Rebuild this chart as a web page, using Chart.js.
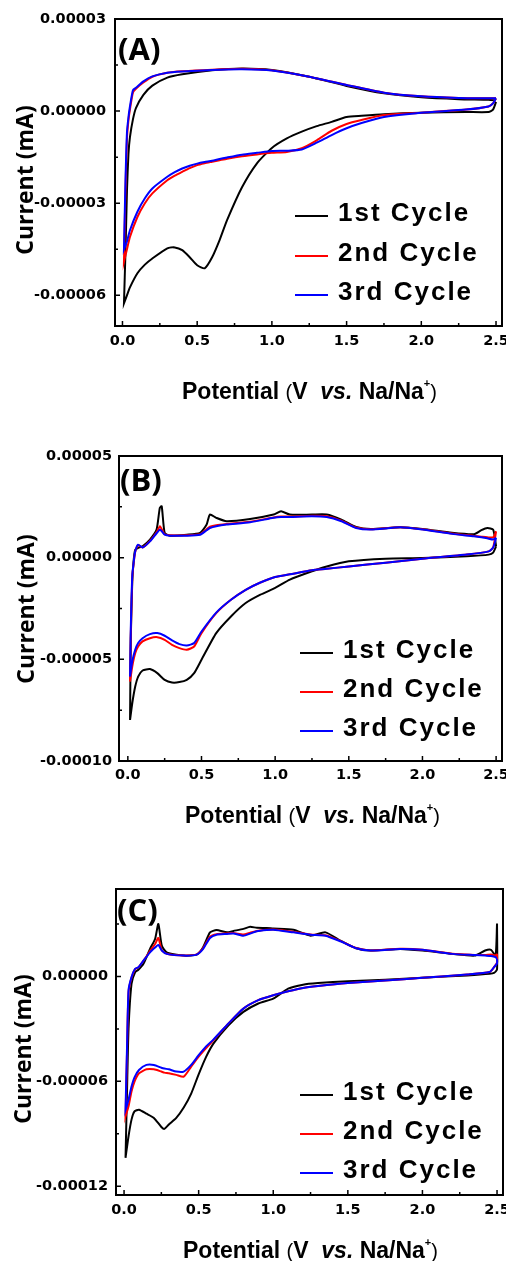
<!DOCTYPE html>
<html>
<head>
<meta charset="utf-8">
<title>CV curves – first three cycles</title>
<script src="https://cdn.jsdelivr.net/npm/chart.js@4.4.1/dist/chart.umd.min.js"></script>
<style>
  html, body { margin: 0; padding: 0; background: #fff; overflow: hidden; }
  #wrap { position: relative; width: 506px; height: 1261px; }
  #wrap canvas { position: absolute; left: 0; }
</style>
</head>
<body>
<div id="wrap">
  <canvas id="cvA" width="506" height="420" style="top:0px"></canvas>
  <canvas id="cvB" width="506" height="420" style="top:420px"></canvas>
  <canvas id="cvC" width="506" height="421" style="top:840px"></canvas>
</div>
<script>
// ─── Shared series info ──────────────────────────────────────────────────────
const CYCLE_NAMES  = ['1st Cycle', '2nd Cycle', '3rd Cycle'];
const CYCLE_COLORS = ['#000000', '#ff0000', '#0000ff'];

// currents below are listed in units of 1e-5 mA
const UNIT = 1e-5;

// potential axis (V vs. Na/Na+)
const X_TICKS = [0, 0.5, 1.0, 1.5, 2.0, 2.5];
const X_MINOR = [0.25, 0.75, 1.25, 1.75, 2.25];

// ─── Panel A ─────────────────────────────────────────────────────────────────
const Y_TICKS_A = [0.00003, 0, -0.00003, -0.00006];
const Y_MINOR_A = [0.000015, -0.000015, -0.000045];

const potDownA = [2.5, 2.48, 2.45, 2.3, 2.0, 1.75, 1.6, 1.5, 1.4, 1.3, 1.2, 1.1, 1.0, 0.9, 0.8,
                  0.7, 0.65, 0.6, 0.55, 0.5, 0.45, 0.4, 0.35, 0.3, 0.2, 0.15, 0.1, 0.05, 0.03, 0.01];
const a1Down = [0.3, 0.05, -0.03, -0.03, -0.05, -0.1, -0.15, -0.19, -0.35, -0.49, -0.67, -0.89, -1.2, -1.7, -2.48,
                -3.55, -4.2, -4.76, -5.12, -5.02, -4.76, -4.53, -4.44, -4.47, -4.8, -5.0, -5.28, -5.74, -6.0, -6.26];
const a2Down = [0.42, 0.25, 0.15, 0.05, -0.05, -0.13, -0.29, -0.42, -0.64, -0.95, -1.21, -1.33, -1.36, -1.41, -1.47,
                -1.55, -1.6, -1.65, -1.7, -1.76, -1.86, -1.98, -2.1, -2.25, -2.68, -3.0, -3.45, -4.1, -4.5, -4.9];
const a3Down = [0.42, 0.25, 0.15, 0.05, -0.05, -0.19, -0.39, -0.56, -0.78, -1.03, -1.25, -1.29, -1.3, -1.36, -1.42,
                -1.51, -1.56, -1.62, -1.66, -1.71, -1.78, -1.87, -1.99, -2.14, -2.52, -2.84, -3.28, -3.88, -4.25, -4.5];

const potUpA = [0.01, 0.02, 0.03, 0.04, 0.05, 0.07, 0.09, 0.14, 0.2, 0.3, 0.4, 0.6, 0.8, 1.0, 1.25,
                1.5, 1.75, 2.0, 2.25, 2.45, 2.5];
const a1Up = [-6.26, -4.6, -2.6, -1.4, -0.85, -0.27, 0.1, 0.53, 0.83, 1.09, 1.2, 1.33, 1.39, 1.34, 1.12,
              0.82, 0.58, 0.45, 0.39, 0.37, 0.35];
const a2Up = [-4.9, -2.6, -0.9, -0.3, 0.05, 0.6, 0.73, 0.93, 1.12, 1.25, 1.3, 1.35, 1.38, 1.33, 1.12,
              0.85, 0.6, 0.48, 0.43, 0.42, 0.42];
const a3Up = [-4.5, -2.3, -0.7, -0.2, 0.15, 0.68, 0.76, 0.97, 1.13, 1.25, 1.29, 1.34, 1.36, 1.32, 1.12,
              0.85, 0.6, 0.48, 0.43, 0.42, 0.42];

// ─── Panel B ─────────────────────────────────────────────────────────────────
const Y_TICKS_B = [0.00005, 0, -0.00005, -0.0001];
const Y_MINOR_B = [0.000025, -0.000025, -0.000075];

const potDownB = [2.5, 2.48, 2.45, 2.3, 2.0, 1.75, 1.5, 1.35, 1.25, 1.1, 1.0, 0.9, 0.8, 0.7,
                  0.6, 0.5, 0.45, 0.4, 0.35, 0.3, 0.25, 0.2, 0.15, 0.1, 0.07, 0.05, 0.03, 0.015];
const b1Down = [0.56, 0.25, 0.15, 0.07, -0.02, -0.05, -0.18, -0.43, -0.67, -1.08, -1.49, -1.82, -2.23, -2.89,
                -3.71, -5.02, -5.68, -6.01, -6.12, -6.14, -6.01, -5.68, -5.48, -5.55, -5.85, -6.34, -7.16, -7.98];
const b2Down = [1.3, 0.5, 0.31, 0.15, -0.05, -0.25, -0.43, -0.55, -0.62, -0.82, -0.95, -1.22, -1.58, -2.07,
                -2.73, -3.71, -4.37, -4.53, -4.45, -4.29, -4.04, -3.91, -3.96, -4.12, -4.37, -4.7, -5.35, -6.09];
const b3Down = [0.98, 0.5, 0.31, 0.15, -0.05, -0.25, -0.43, -0.55, -0.62, -0.82, -0.95, -1.22, -1.58, -2.07,
                -2.7, -3.63, -4.2, -4.32, -4.25, -4.07, -3.84, -3.71, -3.76, -3.96, -4.2, -4.53, -5.1, -5.85];

const potUpB = [0.015, 0.02, 0.03, 0.04, 0.05, 0.07, 0.1, 0.15, 0.195, 0.217, 0.23, 0.25, 0.285, 0.4, 0.49,
                0.535, 0.557, 0.6, 0.67, 0.83, 0.99, 1.04, 1.1, 1.25, 1.35, 1.45, 1.55, 1.65, 1.85, 2.0,
                2.2, 2.35, 2.4, 2.44, 2.48, 2.5];
const b1Up = [-7.98, -4.0, -1.2, -0.1, 0.39, 0.48, 0.56, 0.89, 1.38, 2.45, 2.53, 1.22, 1.08, 1.13, 1.22,
              1.63, 2.12, 1.96, 1.79, 1.9, 2.12, 2.28, 2.12, 2.12, 2.12, 1.87, 1.51, 1.41, 1.49, 1.41,
              1.22, 1.15, 1.35, 1.46, 1.38, 0.56];
const b2Up = [-6.09, -3.8, -1.0, -0.25, 0.28, 0.62, 0.5, 0.82, 1.25, 1.54, 1.4, 1.15, 1.1, 1.1, 1.15,
              1.4, 1.52, 1.6, 1.66, 1.77, 1.98, 2.02, 2.02, 2.06, 2.04, 1.82, 1.48, 1.4, 1.5, 1.4,
              1.19, 1.07, 1.03, 1.0, 1.0, 1.3];
const b3Up = [-5.85, -3.5, -0.9, -0.2, 0.3, 0.64, 0.5, 0.8, 1.2, 1.38, 1.3, 1.13, 1.08, 1.08, 1.13,
              1.35, 1.46, 1.55, 1.63, 1.74, 1.96, 2.0, 2.0, 2.04, 2.0, 1.79, 1.46, 1.38, 1.49, 1.38,
              1.17, 1.05, 1.0, 0.95, 0.89, 0.98];

// ─── Panel C ─────────────────────────────────────────────────────────────────
const Y_TICKS_C = [0, -0.00006, -0.00012];
const Y_MINOR_C = [0.00003, -0.00003, -0.00009];

const potDownC = [2.5, 2.5, 2.48, 2.45, 2.3, 2.0, 1.75, 1.5, 1.3, 1.2, 1.1, 1.0, 0.9, 0.8, 0.7, 0.6,
                  0.55, 0.5, 0.45, 0.4, 0.35, 0.3, 0.27, 0.25, 0.2, 0.15, 0.1, 0.07, 0.05, 0.03, 0.01];
const c1Down = [3.03, 0.4, 0.2, 0.15, 0.06, -0.08, -0.19, -0.27, -0.38, -0.47, -0.7, -1.27, -1.55, -2.03, -2.79, -3.83,
                -4.6, -5.6, -6.7, -7.5, -8.09, -8.47, -8.72, -8.61, -8.09, -7.85, -7.62, -7.72, -8.19, -9.14, -10.37];
const c2Down = [1.29, 0.8, 0.53, 0.25, 0.11, -0.08, -0.23, -0.38, -0.55, -0.66, -0.85, -1.08, -1.36, -1.84, -2.69, -3.64,
                -4.1, -4.59, -5.16, -5.73, -5.63, -5.54, -5.5, -5.44, -5.31, -5.31, -5.54, -6.01, -6.58, -7.43, -8.0];
const c3Down = [1.0, 0.75, 0.53, 0.25, 0.11, -0.08, -0.23, -0.38, -0.55, -0.66, -0.85, -1.08, -1.36, -1.84, -2.69, -3.6,
                -4.0, -4.5, -5.06, -5.44, -5.44, -5.31, -5.27, -5.22, -5.06, -5.06, -5.35, -5.77, -6.3, -7.05, -7.62];

const potUpC = [0.01, 0.02, 0.03, 0.05, 0.074, 0.096, 0.13, 0.174, 0.208, 0.23, 0.253, 0.286, 0.4, 0.487, 0.53,
                0.576, 0.62, 0.69, 0.733, 0.8, 0.845, 0.89, 0.956, 1.0, 1.135, 1.25, 1.35, 1.45, 1.55, 1.65,
                1.85, 2.0, 2.2, 2.35, 2.42, 2.46, 2.49, 2.5];
const c1Up = [-10.37, -6.5, -3.0, -0.42, 0.24, 0.38, 0.72, 1.58, 2.14, 3.0, 1.76, 1.38, 1.19, 1.25, 1.67,
              2.52, 2.65, 2.52, 2.6, 2.72, 2.84, 2.78, 2.77, 2.74, 2.67, 2.33, 2.52, 2.05, 1.63, 1.48,
              1.57, 1.48, 1.29, 1.19, 1.48, 1.52, 1.19, 3.03];
const c2Up = [-8.0, -4.3, -0.9, -0.08, 0.42, 0.52, 0.9, 1.45, 1.85, 2.2, 1.5, 1.3, 1.2, 1.26, 1.62,
              2.27, 2.42, 2.46, 2.48, 2.4, 2.5, 2.6, 2.67, 2.68, 2.55, 2.4, 2.35, 2.03, 1.64, 1.49,
              1.58, 1.53, 1.3, 1.23, 1.22, 1.25, 1.2, 1.29];
const c3Up = [-7.62, -4.0, -0.8, -0.04, 0.44, 0.53, 0.9, 1.38, 1.65, 1.8, 1.48, 1.29, 1.19, 1.25, 1.58,
              2.2, 2.38, 2.43, 2.46, 2.33, 2.45, 2.58, 2.65, 2.67, 2.52, 2.39, 2.33, 2.01, 1.63, 1.48,
              1.57, 1.52, 1.29, 1.22, 1.19, 1.17, 1.1, 1.0];

// ─── Helpers ─────────────────────────────────────────────────────────────────
// one cycle = cathodic sweep (2.5 V → 0 V) followed by the anodic sweep back
function loopPoints(potDown, curDown, potUp, curUp) {
  const down = potDown.map((v, i) => ({ x: v, y: curDown[i] * UNIT }));
  const up   = potUp.map((v, i) => ({ x: v, y: curUp[i] * UNIT }));
  return down.concat(up);
}

const TICK_FONT = { family: 'DejaVu Sans', size: 14.5, weight: 'bold' };
const FONT_AX   = '"Liberation Sans", Arial, sans-serif';

// frame, inward tick marks, panel letter, legend and axis titles
function panelDecor(p) {
  return {
    id: 'panelDecor',
    afterDraw(chart) {
      const { ctx, chartArea: a } = chart;
      const xs = chart.scales.x, ys = chart.scales.y;
      ctx.save();
      ctx.strokeStyle = '#000';
      ctx.fillStyle = '#000';

      // tick marks point into the plot
      ctx.lineWidth = 1.5;
      ctx.beginPath();
      X_TICKS.forEach(v => { const px = xs.getPixelForValue(v); ctx.moveTo(px, a.bottom); ctx.lineTo(px, a.bottom - 5); });
      X_MINOR.forEach(v => { const px = xs.getPixelForValue(v); ctx.moveTo(px, a.bottom); ctx.lineTo(px, a.bottom - 3); });
      p.yTicks.forEach(v => { const py = ys.getPixelForValue(v); ctx.moveTo(a.left, py); ctx.lineTo(a.left + 5, py); });
      p.yMinor.forEach(v => { const py = ys.getPixelForValue(v); ctx.moveTo(a.left, py); ctx.lineTo(a.left + 3, py); });
      ctx.stroke();

      ctx.lineWidth = 2;
      ctx.strokeRect(a.left, a.top, a.right - a.left, a.bottom - a.top);

      // panel letter
      ctx.font = 'bold 31px "Open Sans"';
      ctx.textAlign = 'left';
      ctx.textBaseline = 'middle';
      ctx.fillText(p.letter, p.letterPos[0], p.letterPos[1]);

      // legend
      chart.data.datasets.forEach((ds, i) => {
        const ly = p.legend.ys[i];
        ctx.strokeStyle = ds.borderColor;
        ctx.lineWidth = 2;
        ctx.beginPath();
        ctx.moveTo(p.legend.x1, ly);
        ctx.lineTo(p.legend.x2, ly);
        ctx.stroke();
        ctx.font = 'bold 26px ' + FONT_AX;
        if ('letterSpacing' in ctx) ctx.letterSpacing = '2px';
        ctx.fillText(ds.label, p.legend.textX, ly - 2);
        if ('letterSpacing' in ctx) ctx.letterSpacing = '0px';
      });

      // y title
      ctx.save();
      ctx.translate(p.yTitle[0], p.yTitle[1]);
      ctx.rotate(-Math.PI / 2);
      ctx.textAlign = 'center';
      ctx.font = 'bold 23px "Open Sans"';
      ctx.fillText('Current (mA)', 0, 0);
      ctx.restore();

      // x title, mixed styles
      const parts = [
        ['bold 23px ' + FONT_AX, 'Potential ', 0],
        ['20px ' + FONT_AX, '(', 0],
        ['bold 23px ' + FONT_AX, 'V  ', 0],
        ['italic bold 23px ' + FONT_AX, 'vs.', 0],
        ['bold 23px ' + FONT_AX, ' Na/Na', 0],
        ['bold 11px ' + FONT_AX, '+', -12],
        ['20px ' + FONT_AX, ')', 0]
      ];
      ctx.textBaseline = 'alphabetic';
      ctx.textAlign = 'left';
      let tx = p.xTitle[0];
      parts.forEach(([font, text, dy]) => {
        ctx.font = font;
        ctx.fillText(text, tx, p.xTitle[1] + dy);
        tx += ctx.measureText(text).width;
      });
      ctx.restore();
    }
  };
}

function makePanel(id, p) {
  const canvas = document.getElementById(id);
  const W = canvas.width, H = canvas.height;
  const datasets = p.cycles.map((c, i) => ({
    label: CYCLE_NAMES[i],
    data: loopPoints(p.potDown, c[0], p.potUp, c[1]),
    borderColor: CYCLE_COLORS[i],
    borderWidth: 2,
    pointRadius: 0,
    tension: 0.2,
    fill: false,
    order: 3 - i   // 3rd cycle on top
  }));

  return new Chart(canvas, {
    type: 'line',
    data: { datasets },
    plugins: [panelDecor(p)],
    options: {
      responsive: false,
      animation: false,
      events: [],
      layout: { padding: { top: p.area.top, right: W - p.area.right, left: 0, bottom: 0 } },
      plugins: { legend: { display: false }, tooltip: { enabled: false } },
      scales: {
        x: {
          type: 'linear',
          min: p.xMin, max: 2.54,
          grid: { display: false, drawTicks: false },
          border: { display: false },
          ticks: { font: TICK_FONT, color: '#000', padding: p.xTickPad, maxRotation: 0, autoSkip: false,
                   callback: v => Number(v).toFixed(1) },
          afterBuildTicks(s) { s.ticks = X_TICKS.map(v => ({ value: v })); },
          afterFit(s) { s.height = H - p.area.bottom; s.paddingLeft = 0; s.paddingRight = 0; }
        },
        y: {
          type: 'linear',
          min: p.yMin, max: p.yMax,
          grid: { display: false, drawTicks: false },
          border: { display: false },
          ticks: { font: TICK_FONT, color: '#000', padding: p.yTickPad, autoSkip: false,
                   callback: v => Number(v).toFixed(5) },
          afterBuildTicks(s) { s.ticks = p.yTicks.map(v => ({ value: v })); },
          afterFit(s) { s.width = p.area.left; s.paddingTop = 0; s.paddingBottom = 0; }
        }
      }
    }
  });
}

// ─── Panels ──────────────────────────────────────────────────────────────────
makePanel('cvA', {
  letter: '(A)', letterPos: [118, 51],
  area: { left: 115, top: 19, right: 502, bottom: 326 },
  xMin: -0.05, yMin: -0.00007, yMax: 0.00003,
  yTicks: Y_TICKS_A, yMinor: Y_MINOR_A, yTickPad: 9, xTickPad: 7,
  potDown: potDownA, potUp: potUpA,
  cycles: [[a1Down, a1Up], [a2Down, a2Up], [a3Down, a3Up]],
  legend: { x1: 295, x2: 328, textX: 338, ys: [216, 256, 295] },
  yTitle: [26, 180], xTitle: [182, 399]
});

makePanel('cvB', {
  letter: '(B)', letterPos: [120, 62],
  area: { left: 119, top: 36, right: 502, bottom: 341 },
  xMin: -0.06, yMin: -0.0001, yMax: 0.00005,
  yTicks: Y_TICKS_B, yMinor: Y_MINOR_B, yTickPad: 7, xTickPad: 5.5,
  potDown: potDownB, potUp: potUpB,
  cycles: [[b1Down, b1Up], [b2Down, b2Up], [b3Down, b3Up]],
  legend: { x1: 300, x2: 333, textX: 343, ys: [233, 272, 311] },
  yTitle: [27, 189], xTitle: [185, 403]
});

makePanel('cvC', {
  letter: '(C)', letterPos: [117, 72],
  area: { left: 116, top: 49, right: 503, bottom: 355 },
  xMin: -0.054, yMin: -0.000125, yMax: 0.00005,
  yTicks: Y_TICKS_C, yMinor: Y_MINOR_C, yTickPad: 8, xTickPad: 6.5,
  potDown: potDownC, potUp: potUpC,
  cycles: [[c1Down, c1Up], [c2Down, c2Up], [c3Down, c3Up]],
  legend: { x1: 300, x2: 333, textX: 343, ys: [255, 294, 333] },
  yTitle: [24, 209], xTitle: [183, 418]
});
</script>
</body>
</html>
